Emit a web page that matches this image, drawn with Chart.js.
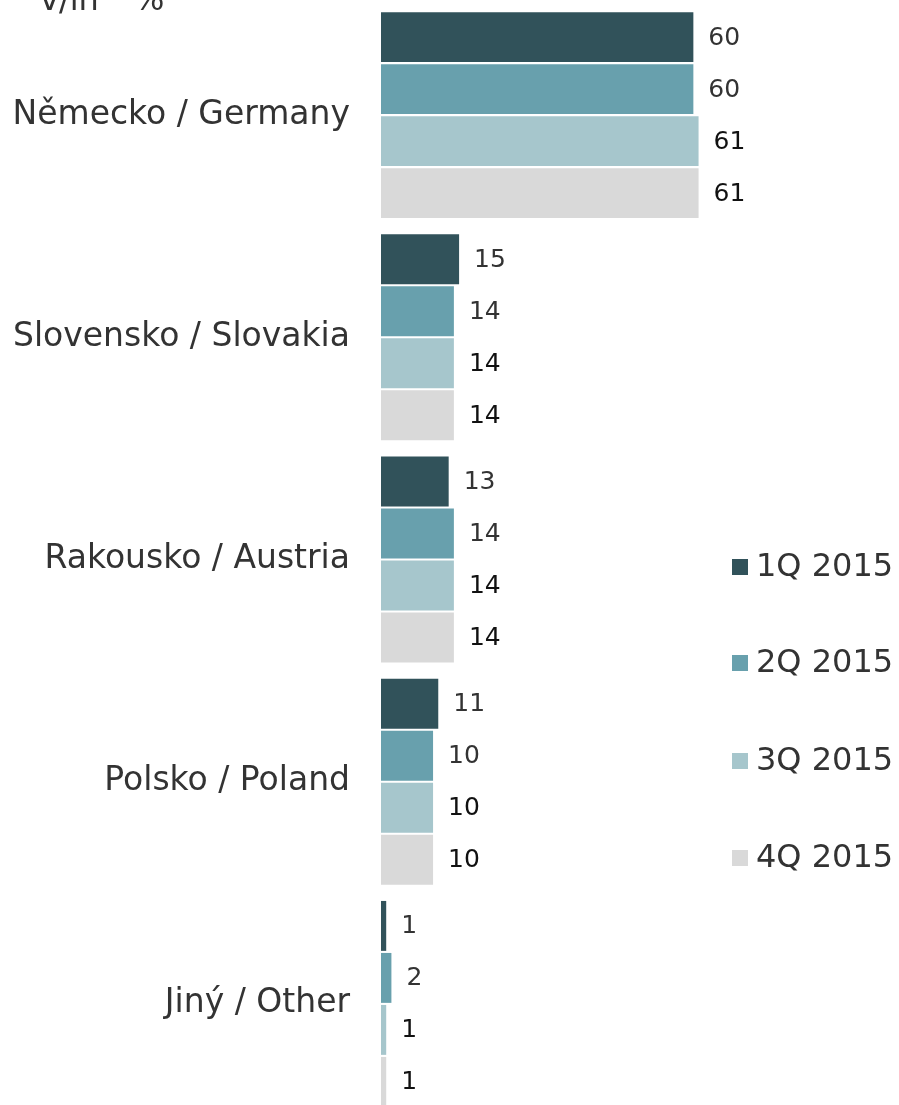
<!DOCTYPE html>
<html><head><meta charset="utf-8">
<script src="https://cdn.jsdelivr.net/npm/chart.js@4.4.1/dist/chart.umd.min.js"></script>
<style>
html,body{margin:0;padding:0;background:#fff;overflow:hidden;width:899px;height:1105px;}
#wrap{position:absolute;left:0;top:0;width:899px;height:1125px;}
</style></head>
<body>
<div id="wrap"><canvas id="c" width="899" height="1125"></canvas></div>
<script>
const categories = ["Německo / Germany", "Slovensko / Slovakia", "Rakousko / Austria", "Polsko / Poland", "Jiný / Other"];
const seriesNames = ["1Q 2015", "2Q 2015", "3Q 2015", "4Q 2015"];
const q1 = [60, 15, 13, 11, 1];
const q2 = [60, 14, 14, 10, 2];
const q3 = [61, 14, 14, 10, 1];
const q4 = [61, 14, 14, 10, 1];
const unitLabel = ["v/in", "%"];

const colors = ["#31525a", "#68a0ad", "#a6c6cc", "#d9d9d9"];
const labelColors = ["#333333", "#333333", "#111111", "#111111"];
const FONT = "'DejaVu Sans', Verdana, sans-serif";

const valueLabels = {
  id: 'valueLabels',
  afterDatasetsDraw(chart) {
    const ctx = chart.ctx;
    ctx.save();
    ctx.font = "25px " + FONT;
    ctx.textBaseline = 'middle';
    ctx.textAlign = 'left';
    chart.data.datasets.forEach((ds, di) => {
      const meta = chart.getDatasetMeta(di);
      meta.data.forEach((bar, i) => {
        ctx.fillStyle = labelColors[di];
        ctx.fillText(String(ds.data[i]), bar.x + 15, bar.y + 1);
      });
    });
    ctx.restore();
  }
};

const extras = {
  id: 'extras',
  afterDraw(chart) {
    const ctx = chart.ctx;
    ctx.save();
    ctx.font = "32px " + FONT;
    ctx.fillStyle = "#333333";
    ctx.textBaseline = 'alphabetic';
    ctx.textAlign = 'left';
    ctx.fillText(unitLabel[0], 40, 10);
    ctx.fillText(unitLabel[1], 134, 10);
    // legend
    const ys = [567, 663, 761, 858];
    chart.data.datasets.forEach((ds, di) => {
      ctx.fillStyle = ds.backgroundColor;
      ctx.fillRect(732, ys[di] - 8, 16, 16);
      ctx.fillStyle = "#333333";
      ctx.textBaseline = 'middle';
      ctx.fillText(ds.label, 756, ys[di] + 1);
    });
    ctx.restore();
  }
};

new Chart(document.getElementById('c'), {
  type: 'bar',
  data: {
    labels: categories,
    datasets: [q1, q2, q3, q4].map((d, i) => ({
      label: seriesNames[i],
      data: d,
      backgroundColor: colors[i],
      borderWidth: 0,
      categoryPercentage: 0.936,
      barPercentage: 0.96
    }))
  },
  options: {
    indexAxis: 'y',
    responsive: false,
    animation: false,
    layout: { padding: { top: 4, bottom: 10, left: 0, right: 0 } },
    plugins: { legend: { display: false }, tooltip: { enabled: false }, title: { display: false } },
    scales: {
      x: { display: false, min: 0, max: 99.5 },
      y: {
        grid: { display: false, drawTicks: false },
        border: { display: false },
        ticks: { color: "#333333", font: { family: FONT, size: 33 }, padding: 31 },
        afterFit(scale) { scale.width = 381; scale.paddingTop = 0; scale.paddingBottom = 0; }
      }
    }
  },
  plugins: [valueLabels, extras]
});
</script>
</body></html>
